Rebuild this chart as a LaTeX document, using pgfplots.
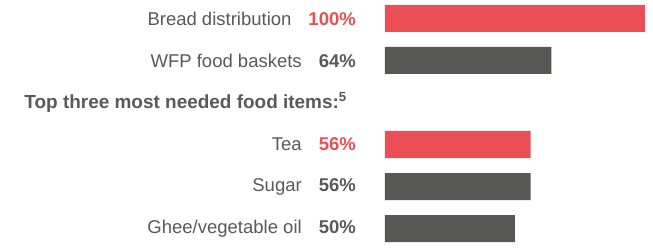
\documentclass[border=0pt]{standalone}
\usepackage{pgfplots}
\pgfplotsset{compat=1.18}
\usepackage{fontspec}
\setmainfont{Liberation Sans}
\definecolor{wfpred}{HTML}{E94F54}
\definecolor{bargray}{HTML}{575756}
\definecolor{txtgray}{HTML}{595959}
\begin{document}
\begin{tikzpicture}
\begin{axis}[
  at={(0,0)}, anchor=south west,
  scale only axis,
  width=260bp, height=248bp,
  xmin=0, xmax=100,
  ymin=-0.44, ymax=5.464,
  y dir=reverse,
  xbar, bar shift=0pt, bar width=27bp,
  axis line style={draw=none},
  xtick=\empty,
  ytick={0,1,2,3,4,5},
  yticklabels={
    {Bread distribution\hspace{17bp}\textcolor{wfpred}{\textbf{100\%}}},
    {WFP food baskets\hspace{17bp}\textbf{64\%}},
    {{\fontsize{18.95bp}{20bp}\selectfont\textbf{Top three most needed food items:}\textsuperscript{\textbf{5}}}\rule{9bp}{0pt}},
    {Tea\hspace{17bp}\textcolor{wfpred}{\textbf{56\%}}},
    {Sugar\hspace{17bp}\textbf{56\%}},
    {Ghee/vegetable oil\hspace{17bp}\textbf{50\%}}
  },
  major tick length=0pt,
  yticklabel style={anchor=east, inner sep=0pt, xshift=-29bp, text=txtgray,
    font=\fontsize{18.5bp}{20bp}\selectfont},
  clip=false,
]
\addplot[draw=none, fill=wfpred] coordinates {(100,0) (56,3)};
\addplot[draw=none, fill=bargray] coordinates {(64,1) (56,4) (50,5)};
\end{axis}
\pgfresetboundingbox
\useasboundingbox (-385bp,0) rectangle (268bp,248bp);
\end{tikzpicture}
\end{document}
